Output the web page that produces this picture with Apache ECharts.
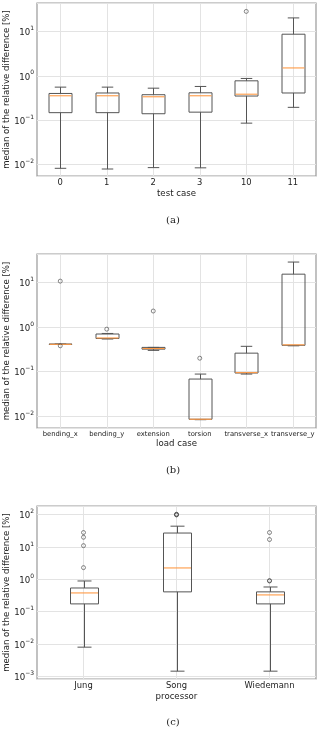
<!DOCTYPE html>
<html>
<head>
<meta charset="utf-8">
<script src="https://cdn.jsdelivr.net/npm/echarts@6/dist/echarts.min.js"></script>
<style>
html, body { margin: 0; padding: 0; background: #fff; }
#chart { width: 320px; height: 731px; }
</style>
</head>
<body>
<div id="chart"></div>
<script>
// (a) test cases: [min, q1, median, q3, max]
var casesA = ['0', '1', '2', '3', '10', '11'];
var boxesA = [
    [0.0083, 0.148, 0.355, 0.40, 0.555],
    [0.0080, 0.148, 0.355, 0.41, 0.555],
    [0.0086, 0.140, 0.337, 0.375, 0.526],
    [0.0085, 0.152, 0.355, 0.414, 0.575],
    [0.086, 0.35, 0.385, 0.77, 0.87],
    [0.195, 0.41, 1.5, 8.6, 20]
];
var outliersA = [[4, 28]];

// (b) load cases
var casesB = ['bending_x', 'bending_y', 'extension', 'torsion', 'transverse_x', 'transverse_y'];
var boxesB = [
    [0.41, 0.41, 0.41, 0.415, 0.415],
    [0.54, 0.555, 0.57, 0.70, 0.72],
    [0.30, 0.32, 0.33, 0.35, 0.35],
    [0.0083, 0.0085, 0.0085, 0.068, 0.088],
    [0.088, 0.093, 0.095, 0.26, 0.37],
    [0.38, 0.39, 0.40, 15.5, 29]
];
var outliersB = [[0, 0.38], [0, 10.8], [1, 0.9], [2, 2.3], [3, 0.2]];

// (c) processors
var casesC = ['Jung', 'Song', 'Wiedemann'];
var boxesC = [
    [0.008, 0.174, 0.38, 0.54, 0.89],
    [0.00145, 0.41, 2.25, 27, 44],
    [0.00145, 0.174, 0.33, 0.41, 0.58]
];
var outliersC = [
    [0, 28], [0, 20], [0, 11], [0, 2.3],
    [1, 100], [1, 98], [1, 103],
    [2, 28], [2, 17], [2, 0.91], [2, 0.89]
];

var yTitle = 'median of the relative difference [%]';
var font = 'DejaVu Sans';
var boxColor = '#555';
var medianColor = '#ff9a45';

function logLabel(v) {
    var l = Math.log10(v);
    var e = Math.round(l);
    if (Math.abs(l - e) > 1e-6) return '';
    return '{b|10}{e|' + (e < 0 ? '\u2212' + (-e) : e) + '}';
}

// matplotlib style box: caps are half the box width
function boxRenderer(boxW) {
    return function (params, api) {
        var i = api.value(0);
        var lo = api.coord([i, api.value(1)]);
        var q1 = api.coord([i, api.value(2)]);
        var md = api.coord([i, api.value(3)]);
        var q3 = api.coord([i, api.value(4)]);
        var hi = api.coord([i, api.value(5)]);
        var x = Math.round(lo[0]) + 0.5;
        var hw = boxW / 2, cw = boxW / 4;
        var line = { stroke: boxColor, lineWidth: 1 };
        return {
            type: 'group',
            children: [
                { type: 'line', shape: { x1: x, y1: lo[1], x2: x, y2: q1[1] }, style: line },
                { type: 'line', shape: { x1: x, y1: q3[1], x2: x, y2: hi[1] }, style: line },
                { type: 'line', shape: { x1: x - cw, y1: lo[1], x2: x + cw, y2: lo[1] }, style: line },
                { type: 'line', shape: { x1: x - cw, y1: hi[1], x2: x + cw, y2: hi[1] }, style: line },
                { type: 'rect', shape: { x: x - hw, y: q3[1], width: boxW, height: q1[1] - q3[1] },
                  style: { fill: 'none', stroke: boxColor, lineWidth: 1 } },
                { type: 'line', shape: { x1: x - hw + 0.5, y1: md[1], x2: x + hw - 0.5, y2: md[1] },
                  style: { stroke: medianColor, lineWidth: 1.1 } }
            ]
        };
    };
}

var grids = [], xAxes = [], yAxes = [], series = [];

function panel(top, height, cats, boxes, outliers, yMin, yMax, boxW, catSize, xName, nameGap) {
    var k = grids.length;
    grids.push({
        left: 37, right: 4, top: top, height: height,
        containLabel: false, outerBoundsMode: 'none',
        show: true, borderColor: '#999', borderWidth: 1.2, backgroundColor: 'transparent'
    });
    xAxes.push({
        type: 'category', gridIndex: k, data: cats,
        name: xName, nameLocation: 'middle', nameGap: nameGap, nameMoveOverlap: false,
        nameTextStyle: { fontFamily: font, fontSize: 8.6, color: '#222' },
        axisLine: { show: false },
        axisTick: { show: false },
        axisLabel: { interval: 0, margin: 3, fontFamily: font, fontSize: catSize, color: '#222' },
        splitLine: { show: true, alignWithLabel: true, lineStyle: { color: '#e3e3e3', width: 1 } }
    });
    yAxes.push({
        type: 'log', logBase: 10, gridIndex: k, min: yMin, max: yMax,
        name: yTitle, nameLocation: 'middle', nameRotate: 90, nameGap: 26, nameMoveOverlap: false,
        nameTextStyle: { fontFamily: font, fontSize: 8.6, color: '#222' },
        axisLine: { show: false },
        axisTick: { show: false },
        minorTick: { show: false },
        axisLabel: {
            margin: 3, showMinLabel: false, showMaxLabel: false,
            formatter: logLabel,
            rich: {
                b: { fontFamily: font, fontSize: 8.6, color: '#222', verticalAlign: 'bottom', lineHeight: 12 },
                e: { fontFamily: font, fontSize: 6, color: '#222', verticalAlign: 'top' }
            }
        },
        splitLine: { show: true, lineStyle: { color: '#e3e3e3', width: 1 } }
    });
    series.push({
        type: 'custom', xAxisIndex: k, yAxisIndex: k,
        data: boxes.map(function (b, i) { return [i].concat(b); }),
        encode: { x: 0, y: [1, 2, 3, 4, 5] },
        renderItem: boxRenderer(boxW), silent: true, z: 4
    });
    series.push({
        type: 'scatter', xAxisIndex: k, yAxisIndex: k,
        data: outliers, symbol: 'circle', symbolSize: 4,
        itemStyle: { color: 'rgba(255,255,255,0)', borderColor: '#444', borderWidth: 0.8 },
        z: 6, silent: true
    });
}

panel(3, 173, casesA, boxesA, outliersA, 0.00557, 43.3, 23, 8.4, 'test case', 13.7);
panel(254, 174, casesB, boxesB, outliersB, 0.0054, 44, 23, 6.8, 'load case', 11.4);
panel(506, 173, casesC, boxesC, outliersC, 0.00083, 185, 28, 8.4, 'processor', 13.7);

var chart = echarts.init(document.getElementById('chart'));
chart.setOption({
    animation: false,
    backgroundColor: '#fff',
    grid: grids,
    xAxis: xAxes,
    yAxis: yAxes,
    series: series,
    graphic: [
        { type: 'text', x: 173, y: 220, style: { text: '(a)', font: '10px "DejaVu Serif"', fill: '#222', align: 'center', verticalAlign: 'middle' } },
        { type: 'text', x: 173, y: 470, style: { text: '(b)', font: '10px "DejaVu Serif"', fill: '#222', align: 'center', verticalAlign: 'middle' } },
        { type: 'text', x: 173, y: 722, style: { text: '(c)', font: '10px "DejaVu Serif"', fill: '#222', align: 'center', verticalAlign: 'middle' } }
    ]
});
</script>
</body>
</html>
